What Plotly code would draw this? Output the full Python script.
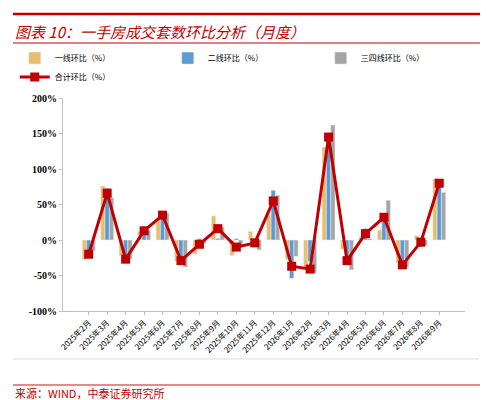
import plotly.graph_objects as go

categories = ["2025年2月","2025年3月","2025年4月","2025年5月","2025年6月","2025年7月","2025年8月","2025年9月","2025年10月","2025年11月","2025年12月","2026年1月","2026年2月","2026年3月","2026年4月","2026年5月","2026年6月","2026年7月","2026年8月","2026年9月"]
tier1 = [-28, 76, -22, 12, 30, -30, -20, 34, -22, 12, 35, -27, -40, 131, -13, 5, 14, -32, 6, 86]
tier2 = [-25, 73, -30, 10, 32, -35, 2, 2, 2, -8, 70, -54, -30, 140, -33, 16, 27, -40, -10, 75]
tier34 = [-15, 60, -27, 14, 38, -38, -5, 18, -10, -14, 63, -23, -46, 162, -42, 2, 56, -38, -8, 67]
total = [-20, 66, -27, 13, 35, -29, -6, 16, -10, -4, 55, -37, -41, 145, -29, 9, 32, -35, -3, 80]
names = ["一线环比（%）", "二线环比（%）", "三四线环比（%）", "合计环比（%）"]
yticks = [-100, -50, 0, 50, 100, 150, 200]

fig = go.Figure()
for vals, nm, c in [(tier1, names[0], "#E8BE6E"), (tier2, names[1], "#5B9BD5"), (tier34, names[2], "#A5A5A5")]:
    fig.add_trace(go.Bar(x=categories, y=vals, name=nm, marker_color=c))
fig.add_trace(go.Scatter(x=categories, y=total, name=names[3], mode="lines+markers",
                         line=dict(color="#C00000", width=3),
                         marker=dict(symbol="square", size=9, color="#C00000")))
fig.update_layout(
    width=488, height=400, margin=dict(l=55, r=31, t=90, b=97, autoexpand=False),
    plot_bgcolor="white", paper_bgcolor="white", barmode="group", bargap=0.3, bargroupgap=0,
    font=dict(family="Noto Sans CJK SC", size=9, color="black"),
    legend=dict(orientation="h", x=-0.12, y=1.03, xanchor="left", yanchor="bottom",
                font=dict(size=8), itemwidth=30, entrywidth=108, entrywidthmode="pixels",
                bgcolor="rgba(0,0,0,0)"),
    showlegend=True,
)
fig.update_yaxes(range=[-100, 200], tickvals=yticks, ticktext=[f"<b>{v}%</b>" for v in yticks],
                 showgrid=False, zeroline=False, showline=True, linecolor="#BFBFBF",
                 ticks="outside", ticklen=3, tickcolor="#BFBFBF",
                 tickfont=dict(family="Liberation Serif", size=10))
fig.update_xaxes(tickangle=-45, showline=True, linecolor="#BFBFBF", tickfont=dict(size=8, family="Noto Sans CJK SC"),
                 ticks="outside", ticklen=3, tickcolor="#BFBFBF")
fig.add_annotation(text="<i>图表 10：一手房成交套数环比分析（月度）</i>", xref="paper", yref="paper",
                   x=-50/402, xanchor="left", y=1 + (90-23)/213, yanchor="middle", showarrow=False,
                   font=dict(size=15, color="#C00000", family="Noto Sans CJK SC"))
fig.add_annotation(text="来源：WIND，中泰证券研究所", xref="paper", yref="paper",
                   x=-50/402, xanchor="left", y=-(385-303)/213, yanchor="middle", showarrow=False,
                   font=dict(size=11, color="#C00000", family="Noto Sans CJK SC"))
fig.update_layout(shapes=[
    dict(type="line", xref="paper", yref="paper", x0=-50/402, x1=428/402, y0=1+(90-6)/213, y1=1+(90-6)/213, line=dict(color="#C00000", width=2.5)),
    dict(type="line", xref="paper", yref="paper", x0=-50/402, x1=428/402, y0=1+(90-35)/213, y1=1+(90-35)/213, line=dict(color="#C00000", width=1)),
    dict(type="line", xref="paper", yref="paper", x0=-50/402, x1=416/402, y0=-(351-303)/213, y1=-(351-303)/213, line=dict(color="#DDDDDD", width=1)),
    dict(type="line", xref="paper", yref="paper", x0=-50/402, x1=428/402, y0=-(377-303)/213, y1=-(377-303)/213, line=dict(color="#E06060", width=1.5)),
])
fig.write_html("out.html")
